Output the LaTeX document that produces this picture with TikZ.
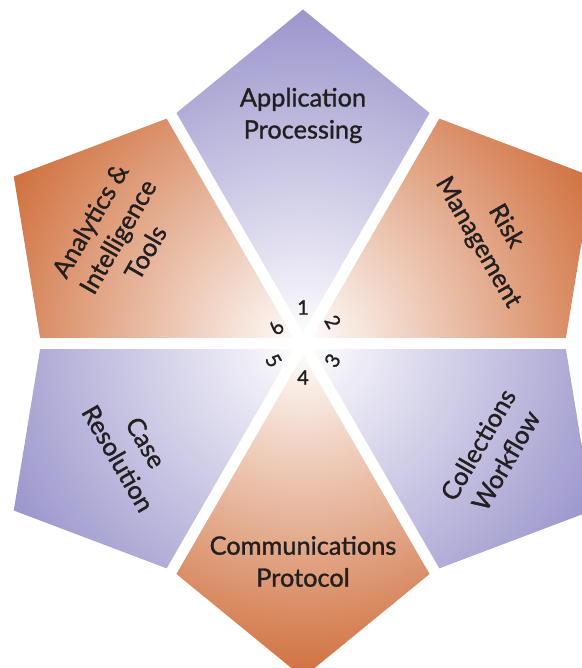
\documentclass[tikz,border=0pt]{standalone}
\usepackage{fontspec}
\setmainfont{Lato}[FakeBold=1.2]
\usepackage{xcolor}
\definecolor{kitepurple}{RGB}{155,150,204}
\definecolor{kiteorange}{RGB}{208,112,62}
\definecolor{labelink}{RGB}{35,31,32}

\begin{document}
\begin{tikzpicture}[x=0.75pt, y=0.75pt, font=\fontsize{19}{24}\selectfont, text=labelink,
	kitelabel/.style={align=center, inner sep=0pt},
	kitenum/.style={font=\fontsize{15}{16}\selectfont, inner sep=0pt},
	gapline/.style={white, line width=8.25pt}]
	\useasboundingbox (-303,-324.5) rectangle (279,343.5);
	\clip (-303,-324.5) rectangle (279,343.5);
	% purple kites: 1, 3, 5
	\begin{scope}
		\clip (0,0) -- (120:262) -- (90:334) -- (60:262) -- cycle
		      (0,0) -- (0:262) -- (330:334) -- (300:262) -- cycle
		      (0,0) -- (240:262) -- (210:334) -- (180:262) -- cycle;
		\shade[inner color=white, outer color=kitepurple] (0,0) circle (334);
	\end{scope}
	% orange kites: 2, 4, 6
	\begin{scope}
		\clip (0,0) -- (60:262) -- (30:334) -- (0:262) -- cycle
		      (0,0) -- (300:262) -- (270:334) -- (240:262) -- cycle
		      (0,0) -- (180:262) -- (150:334) -- (120:262) -- cycle;
		\shade[inner color=white, outer color=kiteorange] (0,0) circle (334);
	\end{scope}
	\draw[gapline] (180:300) -- (0:300);
	\draw[gapline] (240:300) -- (60:300);
	\draw[gapline] (300:300) -- (120:300);
	\node[kitelabel] (app) at (90:228) {Application\\Processing};
	\node[kitelabel, rotate=-60] (risk) at (30:218) {Risk\\Management};
	\node[kitelabel, rotate=60] (coll) at (330:218) {Collections\\Workflow};
	\node[kitelabel] (comm) at (270:218) {Communications\\Protocol};
	\node[kitelabel, rotate=-60] (case) at (-171,-107) {Case\\Resolution};
	\node[kitelabel, rotate=60] (anly) at (150:214) {Analytics \&\\Intelligence\\Tools};
	\node[kitenum] (n1) at (90:36) {1};
	\node[kitenum, rotate=-60] (n2) at (36:37) {2};
	\node[kitenum, rotate=60] (n3) at (330:34) {3};
	\node[kitenum] (n4) at (270:34) {4};
	\node[kitenum, rotate=-60] (n5) at (210:34) {5};
	\node[kitenum, rotate=60] (n6) at (150:31) {6};
\end{tikzpicture}
\end{document}
